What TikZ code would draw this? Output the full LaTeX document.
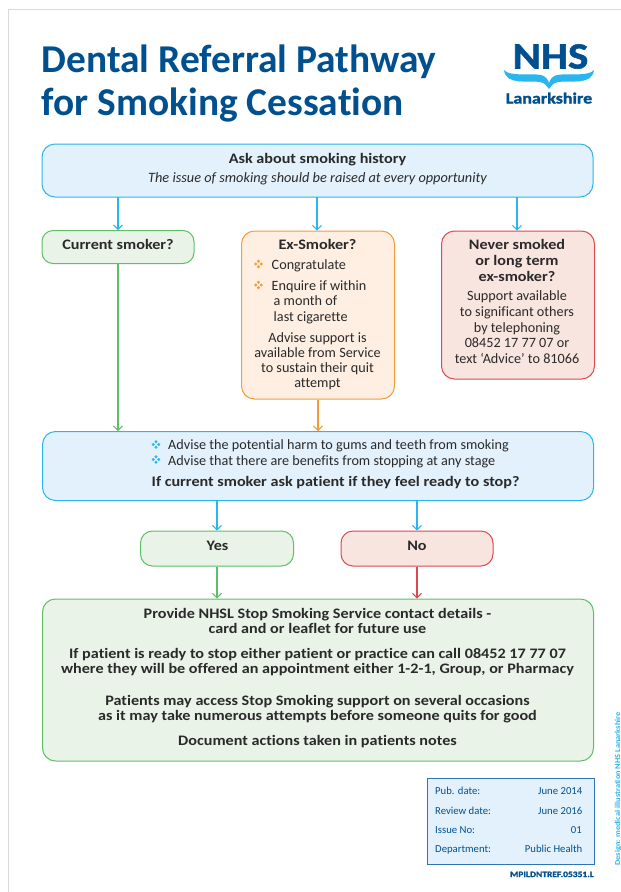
\documentclass[tikz,border=0pt]{standalone}
\usepackage{fontspec}
\setmainfont{Carlito}[Ligatures=NoCommon,BoldFeatures={FakeStretch=1.115}]
\newfontfamily\titlefont{Carlito}[Ligatures=NoCommon,UprightFeatures={FakeBold=0.6},BoldFont={Carlito Bold}]
\newfontfamily\logofont{Carlito Bold}[Ligatures=NoCommon,FakeStretch=1.16,FakeBold=1.6]
\usetikzlibrary{arrows.meta}
\definecolor{navy}{HTML}{00508F}
\definecolor{cy}{HTML}{29B6F0}
\definecolor{cyfill}{HTML}{E3F1FC}
\definecolor{gr}{HTML}{5FBF68}
\definecolor{grfill}{HTML}{E9F3E8}
\definecolor{org}{HTML}{F59A3C}
\definecolor{orgfill}{HTML}{FEEFE2}
\definecolor{rd}{HTML}{E0484F}
\definecolor{rdfill}{HTML}{F9E5DF}
\definecolor{ink}{HTML}{2A2A2A}
\definecolor{metab}{HTML}{2F75B5}
\tikzset{x=1pt,y=-1pt,
 boxx/.style={rounded corners=13pt,line width=1pt,inner sep=0pt},
 bluebox/.style={boxx,draw=cy,fill=cyfill},
 greenbox/.style={boxx,draw=gr,fill=grfill},
 orangebox/.style={boxx,draw=org,fill=orgfill},
 redbox/.style={boxx,draw=rd,fill=rdfill},
 lab/.style={inner sep=0pt,yshift=-1pt,text=ink,text height=10pt,text depth=3pt,font=\fontsize{14.2}{15}\selectfont},
 blab/.style={lab,yshift=-1pt,font=\fontsize{14.5}{15}\selectfont\bfseries},
 arr/.style={line width=1.15pt,-{Straight Barb[length=4.5pt,width=9pt,line width=0.9pt]}},
 meta/.style={inner sep=0pt,text=navy,font=\fontsize{10.7}{12}\selectfont},
 ttl/.style={inner sep=0pt,anchor=base west,text=navy,font=\fontsize{39.4}{40}\titlefont\bfseries},
}
\newcommand{\bul}[1]{\textcolor{#1}{\tikz[baseline=-2.5pt,x=1pt,y=1pt]{\fill (0,2.8) circle (1.6) (0,-2.8) circle (1.6) (2.8,0) circle (1.6) (-2.8,0) circle (1.6);}}}
\begin{document}
\begin{tikzpicture}
\useasboundingbox (0,0) rectangle (621,892);
\fill[white] (0,0) rectangle (621,892);
\draw[line width=0.9pt,black!15] (8,892) -- (8,9.5) -- (621,9.5);
% title
\node[ttl] (t1) at (41.5,72) {Dental Referral Pathway};
\node[ttl] (t2) at (41.5,115) {for Smoking Cessation};
% logo
\node[inner sep=0pt,text=navy,font=\fontsize{37}{37}\logofont,anchor=base] (nhs) at (550.5,68.5) {NHS};
\fill[cy] (504,70) .. controls (510,77) and (530,73) .. (541,75) .. controls (545,76) and (548,79) .. (549,83)
 .. controls (550,79) and (553,76) .. (557,75) .. controls (568,73) and (588,77) .. (594,70)
 .. controls (592,86) and (570,80) .. (558,82) .. controls (553,83) and (551,86) .. (549,89)
 .. controls (547,86) and (545,83) .. (540,82) .. controls (528,80) and (506,86) .. (504,70) -- cycle;
\node[inner sep=0pt,text=navy,font=\fontsize{15.5}{16}\logofont,anchor=base] (lan) at (549,103.5) {Lanarkshire};
% boxes
\draw[bluebox] (42,144) rectangle (593,197);
\coordinate (ask1) at (118,197); \coordinate (ask2) at (317,197); \coordinate (ask3) at (517,197);
\node[blab] (a1) at (317.5,158) {Ask about smoking history};
\node[lab,font=\fontsize{14.3}{15}\selectfont\itshape] (a2) at (317.5,178) {The issue of smoking should be raised at every opportunity};

\node[greenbox,minimum width=152pt,minimum height=33pt,rounded corners=11pt] (cur) at (118,247) {};
\node[blab] (curl) at (118,244) {Current smoker?};
\node[orangebox,minimum width=153pt,minimum height=168pt,anchor=north west] (ex) at (241,230.5) {};
\node[redbox,minimum width=153pt,minimum height=148pt,anchor=north west] (nev) at (441,230.5) {};

\node[blab] (e0) at (317.5,244) {Ex-Smoker?};
\node[inner sep=0pt] (eb1) at (258.5,264) {\bul{org}};
\node[lab,anchor=west] (e1) at (271.5,264.5) {Congratulate};
\node[inner sep=0pt] (eb2) at (258.5,285) {\bul{org}};
\node[lab,anchor=west] (e2) at (271.5,285.5) {Enquire if within};
\node[lab,anchor=west] (e3) at (273.5,300.5) {a month of};
\node[lab,anchor=west] (e4) at (273.5,316.5) {last cigarette};
\node[lab] (e5) at (317.5,337.5) {Advise support is};
\node[lab] (e6) at (317.5,352.5) {available from Service};
\node[lab] (e7) at (317.5,367.5) {to sustain their quit};
\node[lab] (e8) at (317.5,383) {attempt};

\node[blab] (n1) at (517,244) {Never smoked};
\node[blab] (n2) at (517,260) {or long term};
\node[blab] (n3) at (517,276) {ex-smoker?};
\node[lab] (n4) at (517,296) {Support available};
\node[lab] (n5) at (517,312) {to significant others};
\node[lab] (n6) at (517,327.5) {by telephoning};
\node[lab] (n7) at (517,343) {08452 17 77 07 or};
\node[lab] (n8) at (517,359) {text ‘Advice’ to 81066};

\node[bluebox,minimum width=551pt,minimum height=69pt,anchor=north west] (adv) at (42,431) {};
\node[inner sep=0pt] (ab1) at (156,444.5) {\bul{cy}};
\node[lab,anchor=west] (a3) at (168,445) {Advise the potential harm to gums and teeth from smoking};
\node[inner sep=0pt] (ab2) at (156,459.5) {\bul{cy}};
\node[lab,anchor=west] (a4) at (168,460.5) {Advise that there are benefits from stopping at any stage};
\node[blab,anchor=west] (a5) at (151.5,481) {If current smoker ask patient if they feel ready to stop?};

\node[greenbox,minimum width=153pt,minimum height=35pt,rounded corners=12pt] (yes) at (217,548.5) {};
\node[blab] (yesl) at (217.5,545) {Yes};
\node[redbox,minimum width=152pt,minimum height=35pt,rounded corners=12pt] (no) at (417,548.5) {};
\node[blab] (nol) at (417,545) {No};

\node[greenbox,minimum width=551pt,minimum height=162pt,anchor=north west] (out) at (42,598.5) {};
\node[blab] (o1) at (317.5,612.5) {Provide NHSL Stop Smoking Service contact details -};
\node[blab] (o2) at (317.5,628) {card and or leaflet for future use};
\node[blab] (o3) at (317.5,652.5) {If patient is ready to stop either patient or practice can call 08452 17 77 07};
\node[blab] (o4) at (317.5,668) {where they will be offered an appointment either 1-2-1, Group, or Pharmacy};
\node[blab] (o5) at (317.5,700) {Patients may access Stop Smoking support on several occasions};
\node[blab] (o6) at (317.5,715) {as it may take numerous attempts before someone quits for good};
\node[blab] (o7) at (317.5,740) {Document actions taken in patients notes};

% connectors
\draw[arr,cy] (ask1) -- (cur.north -| ask1);
\draw[arr,cy] (ask2) -- (ex.north -| ask2);
\draw[arr,cy] (ask3) -- (nev.north -| ask3);
\draw[arr,gr] (cur.south) -- (adv.north -| cur.south);
\draw[arr,org] (ex.south) -- (adv.north -| ex.south);
\draw[arr,cy] (adv.south -| yes.north) -- (yes.north);
\draw[arr,cy] (adv.south -| no.north) -- (no.north);
\draw[arr,gr] (yes.south) -- (out.north -| yes.south);
\draw[arr,rd] (no.south) -- (out.north -| no.south);

% meta table
\node[draw=metab,fill=cyfill,line width=1pt,minimum width=167pt,minimum height=86pt,anchor=north west,inner sep=0pt] (mt) at (427,778) {};
\node[meta,anchor=base west] (m1) at (435,794) {Pub. date:};
\node[meta,anchor=base west] (m2) at (435,814) {Review date:};
\node[meta,anchor=base west] (m3) at (435,833) {Issue No:};
\node[meta,anchor=base west] (m4) at (435,852) {Department:};
\node[meta,anchor=base east] (v1) at (582.5,794) {June 2014};
\node[meta,anchor=base east] (v2) at (582.5,814) {June 2016};
\node[meta,anchor=base east] (v3) at (582,833) {01};
\node[meta,anchor=base east] (v4) at (582.5,852) {Public Health};
\node[inner sep=0pt,anchor=base east,text=navy,font=\fontsize{8.2}{9}\logofont] (code) at (594,877) {MPILDNTREF.05351.L};
\node[inner sep=0pt,rotate=90,anchor=base west,text=cy,font=\fontsize{7.5}{9}\selectfont\bfseries] (side) at (620,866) {Design: medical illustration NHS Lanarkshire};
\end{tikzpicture}
\end{document}
